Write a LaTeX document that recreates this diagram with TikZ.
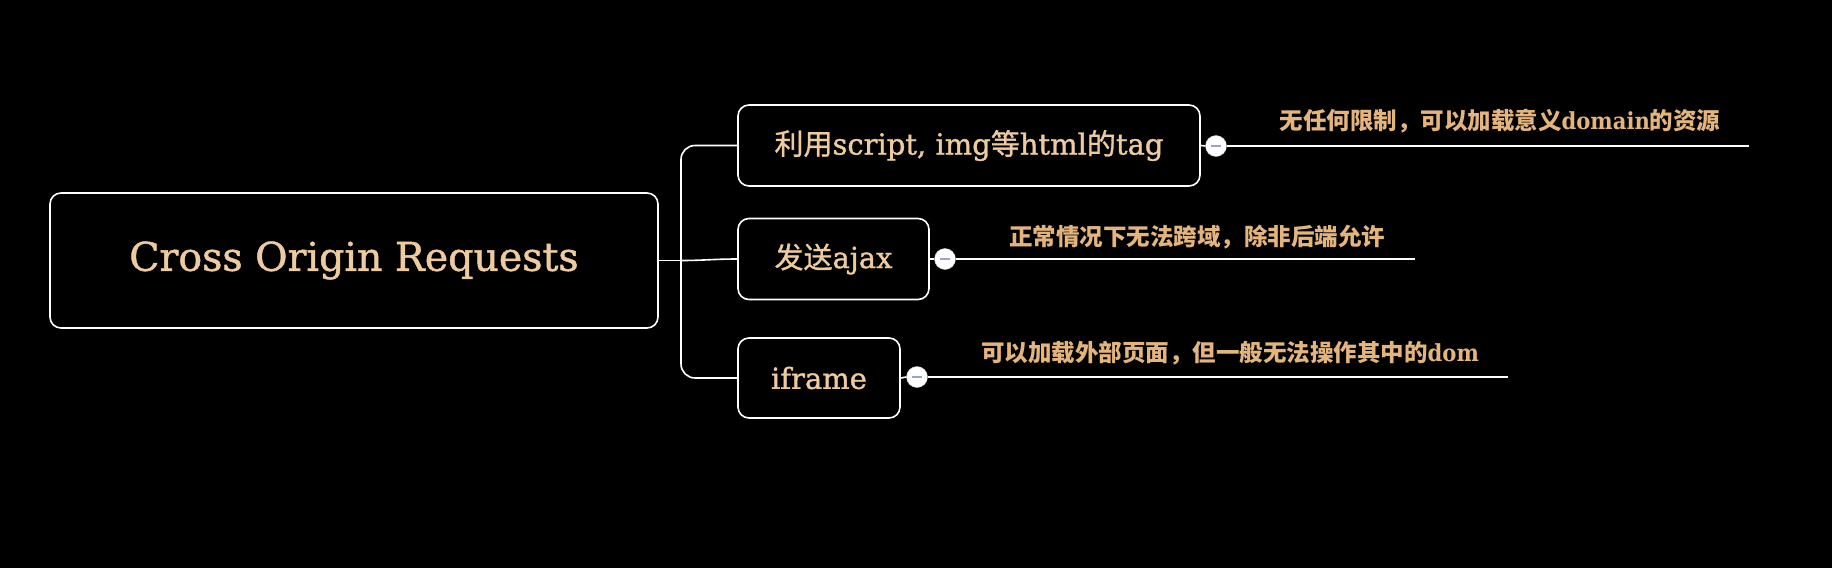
\documentclass[tikz,border=0pt]{standalone}
\usepackage{fontspec}
\setmainfont{DejaVu Serif}[FakeBold=1.2]
\newfontfamily\cjk{Noto Sans CJK SC}[FakeBold=1]
\newfontfamily\cjknote{Noto Sans CJK SC}
\newfontfamily\slabnote{DejaVu Serif Condensed}
\newcommand{\zh}[1]{{\cjk #1}}
\newcommand{\zhnote}[1]{{\cjknote #1}}
\definecolor{peach}{HTML}{EDCB9F}
\definecolor{amber}{HTML}{E4B47D}
\definecolor{foldbar}{HTML}{9AA4C6}

\begin{document}
\begin{tikzpicture}[x=1pt,y=-1pt]
\tikzstyle{every node}+=[inner sep=0pt]
\tikzstyle{topic}=[draw=white, line width=1.6pt, rounded corners=11pt, fill=black, text=peach]
\tikzstyle{subtopic}=[topic, minimum height=81pt, font=\fontsize{29}{34}\selectfont]
\tikzstyle{fold}=[circle, draw=white!80!black, fill=white, minimum size=21pt]
\tikzstyle{branch}=[white, line width=1.6pt, rounded corners=14pt]
\tikzstyle{note}=[text=amber, font=\fontsize{23.5}{27}\selectfont\slabnote\bfseries]
\fill [black] (0,0) rectangle (1832,568);
\node [topic, minimum width=608pt, minimum height=135pt, font=\fontsize{39.5}{46}\selectfont] (root) at (354,260.5) {Cross Origin Requests};
\node [subtopic, minimum width=462pt] (script) at (969,145.5) {\zh{利用}script, img\zh{等}html\zh{的}tag};
\node [subtopic, minimum width=191pt] (ajax) at (833.5,259) {\zh{发送}ajax};
\node [subtopic, minimum width=162pt, minimum height=80pt] (iframe) at (819,378) {iframe};
\coordinate (hub) at (681,260.5);
\draw [branch] (root.east) -- (hub);
\draw [branch] (hub) to [out=0, in=180] (ajax.west);
\draw [branch] (hub) |- (script.west);
\draw [branch] (hub) |- (iframe.west);
\node [fold] (scriptfold) at (1216,146) {\color{foldbar}\rule{10pt}{2.5pt}};
\node [fold] (ajaxfold) at (945,259) {\color{foldbar}\rule{10pt}{2.5pt}};
\node [fold] (iframefold) at (917,377) {\color{foldbar}\rule{10pt}{2.5pt}};
\coordinate (scriptend) at (1749,146);
\coordinate (ajaxend) at (1415,259);
\coordinate (iframeend) at (1508,377);
\draw [branch] (script.east) -- (scriptfold.west);
\draw [branch] (scriptfold.east) -- (scriptend);
\draw [branch] (ajax.east) -- (ajaxfold.west);
\draw [branch] (ajaxfold.east) -- (ajaxend);
\draw [branch] (iframe.east) -- (iframefold.west);
\draw [branch] (iframefold.east) -- (iframeend);
\node [note] (scriptnote) at (1500,121) {\zhnote{无任何限制，可以加载意义}domain\zhnote{的资源}};
\node [note] (ajaxnote) at (1197,237) {\zhnote{正常情况下无法跨域，除非后端允许}};
\node [note] (iframenote) at (1230,353) {\zhnote{可以加载外部页面，但一般无法操作其中的}dom};
\end{tikzpicture}
\end{document}
